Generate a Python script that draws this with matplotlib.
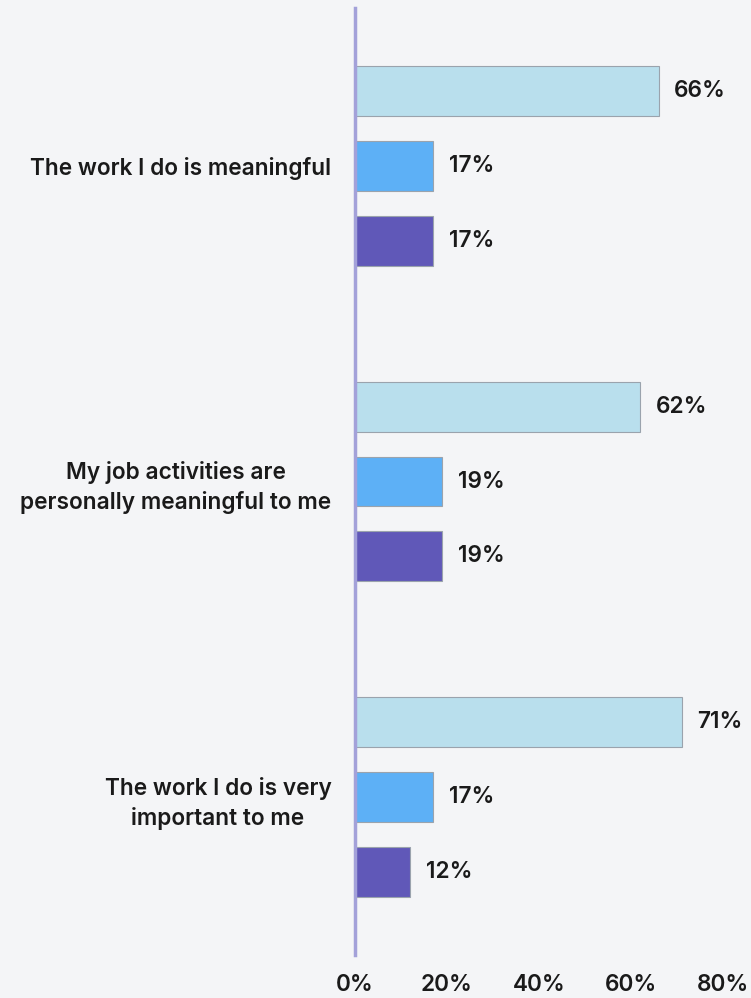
import numpy as np
import matplotlib.pyplot as plt
import matplotlib as mpl

mpl.rcParams['font.family'] = ['Inter', 'DejaVu Sans']

questions = ['The work I do is meaningful',
             'My job activities are\npersonally meaningful to me',
             'The work I do is very\nimportant to me']
series_a = [66, 62, 71]
series_b = [17, 19, 17]
series_c = [17, 19, 12]
xticks = [0, 20, 40, 60, 80]

bg = '#f4f5f7'
colors = ['#b9dfed', '#5db0f6', '#6058b8']
offsets = [-0.237, 0.0, 0.237]
bar_h = 0.158
fs = 16.3

fig = plt.figure(figsize=(7.51, 9.98), dpi=100, facecolor=bg)
ax = fig.add_axes([355/751, 1 - 955/998, (723 - 355)/751, (955 - 8)/998])
ax.set_facecolor(bg)

pos = np.arange(len(questions))
for vals, col, off in zip([series_a, series_b, series_c], colors, offsets):
    bars = ax.barh(pos + off, vals, height=bar_h, color=col,
                   edgecolor='#9aa3ad', linewidth=0.8, zorder=2)
    for b, v in zip(bars, vals):
        ax.text(v + 3.4, b.get_y() + b.get_height() / 2, f'{v}%',
                va='center', ha='left', fontsize=fs, fontweight='semibold',
                color='#1a1a1a')

ax.set_xlim(0, 80)
ax.set_ylim(2.5, -0.5)
ax.set_yticks(pos)
ax.set_yticklabels(questions, fontsize=fs, fontweight='semibold',
                   color='#1a1a1a', ha='right', multialignment='center',
                   linespacing=1.4)
ax.tick_params(axis='y', length=0, pad=17)
ax.set_xticks(xticks)
ax.set_xticklabels([f'{t}%' for t in xticks], fontsize=fs,
                   fontweight='semibold', color='#1a1a1a')
ax.tick_params(axis='x', length=0, pad=14)

for s in ['top', 'right', 'bottom']:
    ax.spines[s].set_visible(False)
ax.spines['left'].set_color('#a3a1d9')
ax.spines['left'].set_linewidth(2.5)
ax.spines['left'].set_zorder(3)

fig.savefig('out.png', dpi=100, facecolor=bg)
